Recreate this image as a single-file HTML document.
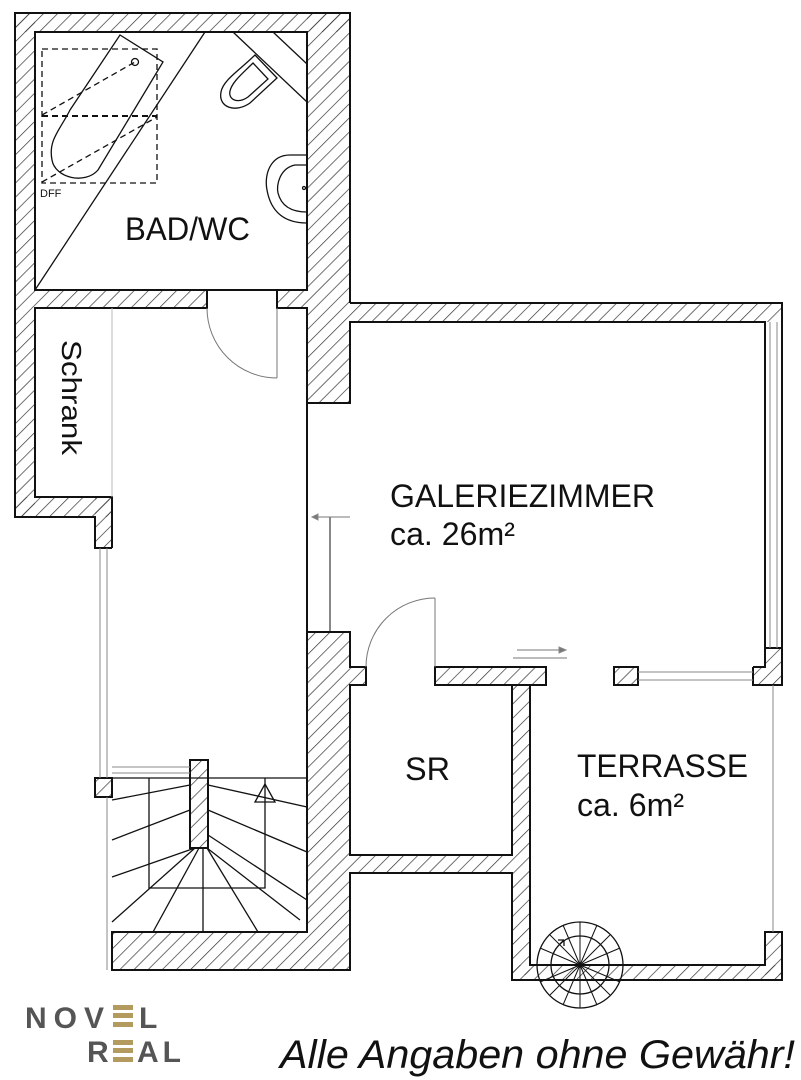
<!DOCTYPE html>
<html><head><meta charset="utf-8"><style>
html,body{margin:0;padding:0;background:#fff;width:801px;height:1080px;overflow:hidden}
</style></head><body>
<svg width="801" height="1080" viewBox="0 0 801 1080" xmlns="http://www.w3.org/2000/svg">
<defs>
<pattern id="h" patternUnits="userSpaceOnUse" width="10" height="10" patternTransform="rotate(45)">
<line x1="0" y1="0" x2="0" y2="10" stroke="#333" stroke-width="1.4"/>
</pattern>
</defs>
<rect width="801" height="1080" fill="#fff"/>
<g fill="url(#h)" stroke="none">
<rect x="15" y="13" width="335" height="19"/>
<rect x="15" y="13" width="20" height="504"/>
<rect x="15" y="497" width="97" height="20"/>
<rect x="95" y="497" width="17" height="51"/>
<rect x="35" y="290" width="172" height="18"/>
<rect x="277" y="290" width="30" height="18"/>
<rect x="307" y="13" width="43" height="390"/>
<rect x="350" y="303" width="432" height="19"/>
<rect x="307" y="632" width="43" height="338"/>
<rect x="112" y="932" width="195" height="38"/>
<rect x="350" y="667" width="16" height="18"/>
<rect x="435" y="667" width="111" height="18"/>
<rect x="512" y="685" width="18" height="290"/>
<rect x="512" y="965" width="270" height="15"/>
<rect x="350" y="855" width="162" height="18"/>
<rect x="614" y="667" width="24" height="18"/>
<rect x="765" y="648" width="17" height="37"/>
<rect x="753" y="667" width="12" height="18"/>
<rect x="765" y="932" width="17" height="43"/>
<rect x="95" y="778" width="17" height="19"/>
<rect x="190" y="760" width="18" height="88"/>
</g>
<g fill="none" stroke="#111" stroke-width="2">
<polyline points="350,303 350,13 15,13 15,517 95,517 95,548 112,548"/>
<polyline points="350,303 782,303 782,648"/>
<rect x="35" y="32" width="272" height="258"/>
<polyline points="207,290 207,308 35,308 35,497 112,497 112,548"/>
<polyline points="277,290 277,308 307,308 307,403 350,403 350,322 765,322 765,648"/>
<polyline points="307,632 350,632 350,667 366,667 366,685 350,685 350,855 512,855 512,685 546,685 546,667 435,667 435,685 512,685"/>
<polyline points="307,632 307,932 112,932 112,970 350,970 350,873 512,873 512,980 782,980 782,932 765,932 765,965 530,965 530,685 546,685"/>
<rect x="614" y="667" width="24" height="18"/>
<polyline points="753,667 765,667 765,648 782,648 782,685 753,685 753,667"/>
<rect x="95" y="778" width="17" height="19"/>
<rect x="190" y="760" width="18" height="88"/>
<line x1="307" y1="403" x2="307" y2="632"/>
</g>
<g fill="none" stroke="#888" stroke-width="1">
<line x1="770" y1="322" x2="770" y2="648"/><line x1="777" y1="322" x2="777" y2="648"/>
<line x1="100" y1="548" x2="100" y2="778"/><line x1="107" y1="548" x2="107" y2="778"/>
<line x1="638" y1="672" x2="753" y2="672"/><line x1="638" y1="680" x2="753" y2="680"/>
<line x1="112" y1="767" x2="190" y2="767"/><line x1="112" y1="773" x2="190" y2="773"/>
<line x1="107" y1="797" x2="107" y2="970"/>
<line x1="773" y1="685" x2="773" y2="932"/>
<line x1="112" y1="308" x2="112" y2="497" stroke="#bbb"/>
<line x1="330" y1="517" x2="330" y2="632" stroke="#111"/>
<line x1="350" y1="517" x2="312" y2="517" stroke="#777"/>
<path d="M312,517 l6,-3 v6z" fill="#777"/>
<line x1="517" y1="650" x2="560" y2="650" stroke="#777"/>
<path d="M566,650 l-7,-3 v6z" fill="#777"/>
<line x1="513" y1="658" x2="567" y2="658" stroke="#777"/>
<path d="M207,308 A70,70 0 0 0 277,378" stroke="#777"/>
<line x1="277" y1="308" x2="277" y2="378" stroke="#777"/>
<path d="M435,598 A69,69 0 0 0 366,667" stroke="#777"/>
<line x1="435" y1="598" x2="435" y2="667" stroke="#777"/>
</g>
<g fill="none" stroke="#111" stroke-width="1.3">
<line x1="112" y1="778" x2="307" y2="778"/>
<polyline points="149,778 149,888 265,888 265,778"/>
<line x1="112" y1="800" x2="190" y2="785"/>
<line x1="112" y1="840" x2="190" y2="810"/>
<line x1="208" y1="785" x2="307" y2="807"/>
<line x1="208" y1="810" x2="307" y2="852"/>
<line x1="208" y1="835" x2="307" y2="900"/>
<line x1="112" y1="877" x2="195" y2="848"/>
<line x1="112" y1="922" x2="195" y2="848"/>
<line x1="153" y1="932" x2="199" y2="848"/>
<line x1="203" y1="932" x2="203" y2="848"/>
<line x1="258" y1="932" x2="207" y2="848"/>
<line x1="300" y1="920" x2="207" y2="848"/>
<path d="M255,802 L265,784 L275,802Z"/>
<circle cx="580" cy="965" r="43"/>
<circle cx="580" cy="965" r="29"/>
<g stroke-width="1">
<line x1="537" y1="965" x2="623" y2="965"/><line x1="580" y1="922" x2="580" y2="1008"/>
<line x1="550" y1="935" x2="610" y2="995"/><line x1="610" y1="935" x2="550" y2="995"/>
<line x1="563" y1="925" x2="597" y2="1005"/><line x1="597" y1="925" x2="563" y2="1005"/>
<line x1="540" y1="948" x2="620" y2="982"/><line x1="620" y1="948" x2="540" y2="982"/>
</g>
<path d="M560,944 l4,-4 m0,0 l-6,0 m6,0 l0,6"/>
</g>
<g fill="none" stroke="#111" stroke-width="1.3">
<line x1="35" y1="290" x2="205" y2="32"/>
<path d="M120,35 L163,62 L98,170 C85,185 55,178 52,160 C48,140 60,130 70,110 Z"/>
<circle cx="135" cy="62" r="3.5"/>
<g stroke-dasharray="6,4">
<rect x="42" y="49" width="115" height="134"/>
<line x1="42" y1="116" x2="157" y2="116" stroke-width="2"/>
<line x1="42" y1="115" x2="135" y2="62"/>
<line x1="42" y1="182" x2="157" y2="117"/>
</g>
<line x1="233" y1="32" x2="307" y2="102"/>
<line x1="273" y1="32" x2="307" y2="64"/>
<path d="M255,55 L277,78 L250,103 C236,113 218,108 221,92 C223,80 240,70 255,55Z"/>
<path d="M253,63 L268,79 L248,97 C238,104 228,100 230,91 C232,82 242,74 253,63Z"/>
<path d="M307,155 L290,155 C270,155 264,175 267,190 C270,207 280,223 307,223"/>
<path d="M307,165 L295,165 C280,168 276,185 278,193 C281,205 290,212 307,212"/>
<circle cx="304" cy="188" r="1.5"/>
</g>
<g font-family="Liberation Sans, sans-serif" fill="#111">
<text x="40" y="197" font-size="11">DFF</text>
<text x="125" y="240" font-size="32" textLength="125" lengthAdjust="spacingAndGlyphs">BAD/WC</text>
<text x="390" y="507" font-size="32" textLength="265" lengthAdjust="spacingAndGlyphs">GALERIEZIMMER</text>
<text x="390" y="545" font-size="32" textLength="125" lengthAdjust="spacingAndGlyphs">ca. 26m²</text>
<text x="405" y="780" font-size="32" textLength="45" lengthAdjust="spacingAndGlyphs">SR</text>
<text x="577" y="777" font-size="32" textLength="171" lengthAdjust="spacingAndGlyphs">TERRASSE</text>
<text x="577" y="816" font-size="32" textLength="107" lengthAdjust="spacingAndGlyphs">ca. 6m²</text>
<text x="0" y="0" font-size="28" transform="translate(62,340) rotate(90)" textLength="115" lengthAdjust="spacingAndGlyphs">Schrank</text>
<text x="280" y="1068" font-size="40" font-style="italic" textLength="515" lengthAdjust="spacingAndGlyphs">Alle Angaben ohne Gewähr!</text>
</g>
<g font-family="Liberation Sans, sans-serif" font-weight="bold" fill="#555" font-size="30">
<text x="25" y="1028" letter-spacing="7">NOV</text>
<text x="139" y="1028">L</text>
<text x="87" y="1062">R</text>
<text x="137" y="1062" letter-spacing="4">AL</text>
</g>
<g fill="#b39a5e">
<rect x="113" y="1005" width="20" height="5"/><rect x="113" y="1013" width="20" height="5"/><rect x="113" y="1022" width="20" height="5"/>
<rect x="113" y="1040" width="20" height="5"/><rect x="113" y="1048" width="20" height="5"/><rect x="113" y="1057" width="20" height="5"/>
</g>
</svg>
</body></html>
